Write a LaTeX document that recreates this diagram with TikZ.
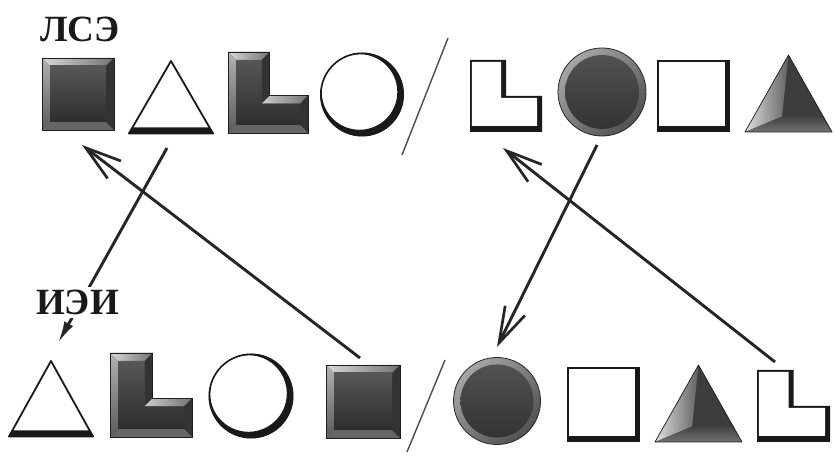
\documentclass[tikz,border=0pt]{standalone}
\usepackage{fontspec}
\setmainfont{Liberation Serif}
\usetikzlibrary{arrows.meta,calc}

\tikzset{
  anchorbox/.style={inner sep=0pt, outer sep=0pt, draw=none},
  arr/.style={line width=2.9pt, black!85, -{Straight Barb[length=36pt,width=22pt,line width=2.7pt]}},
  arrsmall/.style={line width=2.9pt, black!85, -{Latex[length=22pt,width=10pt]}},
  lbl/.style={font=\bfseries\fontsize{37}{37}\selectfont, inner sep=3pt, text=black!90},
  slashline/.style={line width=1.4pt, black!70},
}

% dark bevelled square
\newcommand\DarkSq[5]{%
  \begin{scope}[shift={(#2,#3)}]
    \pgfmathsetmacro\shW{#4/2}\pgfmathsetmacro\shH{#5/2}
    \fill[black!72] (-\shW,-\shH) rectangle (\shW,\shH);
    \shade[left color=gray!30, right color=black!55] (-\shW,\shH) -- (\shW,\shH) -- (\shW-8,\shH-8) -- (-\shW+8,\shH-8) -- cycle;
    \shade[top color=gray!60, bottom color=black!65] (-\shW,\shH) -- (-\shW+8,\shH-8) -- (-\shW+8,-\shH+8) -- (-\shW,-\shH) -- cycle;
    \fill[black!60] (-\shW,-\shH) -- (-\shW+8,-\shH+8) -- (\shW-8,-\shH+8) -- (\shW,-\shH) -- cycle;
    \fill[black!80] (\shW,\shH) -- (\shW-8,\shH-8) -- (\shW-8,-\shH+8) -- (\shW,-\shH) -- cycle;
    \shade[top color=black!66, bottom color=black!82] (-\shW+8,-\shH+8) rectangle (\shW-8,\shH-8);
    \draw[black!88, line width=0.9pt] (-\shW,-\shH) rectangle (\shW,\shH);
  \end{scope}
  \node[anchorbox, minimum width=#4pt, minimum height=#5pt] (#1) at (#2,#3) {};
}

% dark bevelled L
\newcommand\DarkL[5]{%
  \begin{scope}[shift={(#2,#3)}]
    \pgfmathsetmacro\shW{#4/2}\pgfmathsetmacro\shH{#5/2}
    \pgfmathsetmacro\nX{-\shW+0.52*#4}\pgfmathsetmacro\nY{\shH-0.54*#5}
    \fill[black!72] (-\shW,-\shH) -- (\shW,-\shH) -- (\shW,\nY) -- (\nX,\nY) -- (\nX,\shH) -- (-\shW,\shH) -- cycle;
    \shade[left color=gray!30, right color=black!55] (-\shW,\shH) -- (\nX,\shH) -- (\nX-8,\shH-8) -- (-\shW+8,\shH-8) -- cycle;
    \shade[top color=gray!60, bottom color=black!65] (-\shW,\shH) -- (-\shW+8,\shH-8) -- (-\shW+8,-\shH+8) -- (-\shW,-\shH) -- cycle;
    \fill[black!80] (\nX,\shH) -- (\nX,\nY) -- (\nX-8,\nY-8) -- (\nX-8,\shH-8) -- cycle;
    \shade[left color=gray!40, right color=black!55] (\nX,\nY) -- (\shW,\nY) -- (\shW-8,\nY-8) -- (\nX-8,\nY-8) -- cycle;
    \fill[black!80] (\shW,\nY) -- (\shW,-\shH) -- (\shW-8,-\shH+8) -- (\shW-8,\nY-8) -- cycle;
    \fill[black!60] (-\shW,-\shH) -- (-\shW+8,-\shH+8) -- (\shW-8,-\shH+8) -- (\shW,-\shH) -- cycle;
    \shade[top color=black!66, bottom color=black!82] (-\shW+8,-\shH+8) -- (\shW-8,-\shH+8) -- (\shW-8,\nY-8) -- (\nX-8,\nY-8) -- (\nX-8,\shH-8) -- (-\shW+8,\shH-8) -- cycle;
    \draw[black!88, line width=0.9pt] (-\shW,-\shH) -- (\shW,-\shH) -- (\shW,\nY) -- (\nX,\nY) -- (\nX,\shH) -- (-\shW,\shH) -- cycle;
  \end{scope}
  \node[anchorbox, minimum width=#4pt, minimum height=#5pt] (#1) at (#2,#3) {};
}

% white square with shadowed bottom/right edges
\newcommand\WhiteSq[5]{%
  \begin{scope}[shift={(#2,#3)}]
    \pgfmathsetmacro\shW{#4/2}\pgfmathsetmacro\shH{#5/2}
    \fill[black!90] (-\shW,-\shH) rectangle (\shW,\shH);
    \fill[white] (-\shW+1.8,-\shH+6) rectangle (\shW-5,\shH-1.8);
  \end{scope}
  \node[anchorbox, minimum width=#4pt, minimum height=#5pt] (#1) at (#2,#3) {};
}

% white L with shadowed edges
\newcommand\WhiteL[5]{%
  \begin{scope}[shift={(#2,#3)}]
    \pgfmathsetmacro\shW{#4/2}\pgfmathsetmacro\shH{#5/2}
    \pgfmathsetmacro\nX{-\shW+0.5*#4}\pgfmathsetmacro\nY{\shH-0.5*#5}
    \fill[black!90] (-\shW,-\shH) -- (\shW,-\shH) -- (\shW,\nY) -- (\nX,\nY) -- (\nX,\shH) -- (-\shW,\shH) -- cycle;
    \fill[white] (-\shW+1.8,-\shH+6) -- (\shW-5,-\shH+6) -- (\shW-5,\nY-1.8) -- (\nX-5,\nY-1.8) -- (\nX-5,\shH-1.8) -- (-\shW+1.8,\shH-1.8) -- cycle;
  \end{scope}
  \node[anchorbox, minimum width=#4pt, minimum height=#5pt] (#1) at (#2,#3) {};
}

% white triangle with thick base
\newcommand\WhiteTri[5]{%
  \begin{scope}[shift={(#2,#3)}]
    \pgfmathsetmacro\shW{#4/2}\pgfmathsetmacro\shH{#5/2}
    \fill[white] (0,\shH) -- (-\shW,-\shH) -- (\shW,-\shH) -- cycle;
    \draw[black!90, line width=1.8pt, line join=round] (0,\shH-1) -- (-\shW+1,-\shH+0.5) -- (\shW-1,-\shH+0.5) -- cycle;
    \fill[black!90] (-\shW,-\shH) -- (\shW,-\shH) -- (\shW-4,-\shH+6.5) -- (-\shW+4,-\shH+6.5) -- cycle;
  \end{scope}
  \node[anchorbox, minimum width=#4pt, minimum height=#5pt] (#1) at (#2,#3) {};
}

% dark shaded triangle
\newcommand\DarkTri[5]{%
  \begin{scope}[shift={(#2,#3)}]
    \pgfmathsetmacro\shW{#4/2}\pgfmathsetmacro\shH{#5/2}
    \pgfmathsetmacro\pX{-0.15*\shW}\pgfmathsetmacro\pY{-\shH+0.2*#5}
    \fill[black!76] (0,\shH) -- (-\shW,-\shH) -- (\shW,-\shH) -- cycle;
    \shade[left color=gray!25, right color=black!62] (0,\shH) -- (-\shW,-\shH) -- (\pX,\pY) -- cycle;
    \shade[top color=black!74, bottom color=black!55] (-\shW,-\shH) -- (\shW,-\shH) -- (0.8*\shW,\pY) -- (\pX,\pY) -- cycle;
    \draw[black!88, line width=0.7pt, line join=round] (0,\shH) -- (-\shW,-\shH) -- (\shW,-\shH) -- cycle;
  \end{scope}
  \node[anchorbox, minimum width=#4pt, minimum height=#5pt] (#1) at (#2,#3) {};
}

% white circle with crescent shadow
\newcommand\WhiteCirc[4]{%
  \begin{scope}[shift={(#2,#3)}]
    \fill[white] (0,0) circle (#4);
    \fill[black!90, even odd rule] (0,0) circle (#4-0.3) (-2.5,2.5) circle (#4-4.2);
    \draw[black!90, line width=1.6pt] (0,0) circle (#4-0.8);
  \end{scope}
  \node[anchorbox, circle, minimum size=2*#4pt] (#1) at (#2,#3) {};
}

% dark shaded ball with lighter rim
\newcommand\DarkCirc[4]{%
  \begin{scope}[shift={(#2,#3)}]
    \shade[top color=gray!70, bottom color=black!68, shading angle=45] (0,0) circle (#4);
    \shade[top color=black!68, bottom color=black!80] (0,0) circle (0.84*#4);
    \draw[black!85, line width=0.8pt] (0,0) circle (#4);
  \end{scope}
  \node[anchorbox, circle, minimum size=2*#4pt] (#1) at (#2,#3) {};
}

\begin{document}
\begin{tikzpicture}[x=1pt, y=1pt]
  \fill[white] (0,0) rectangle (834,462);
  \useasboundingbox (0,0) rectangle (834,462);

  % top row
  \DarkSq{t1}{78}{368}{72}{72}
  \WhiteTri{t2}{171}{365}{86}{74}
  \DarkL{t3}{268}{369.5}{80}{81}
  \WhiteCirc{t4}{362}{367.5}{42}
  \WhiteL{t5}{506}{366}{72}{72}
  \DarkCirc{t6}{602}{370}{44}
  \WhiteSq{t7}{693.5}{366}{73}{72}
  \DarkTri{t8}{788.5}{368.5}{87}{77}

  % bottom row
  \WhiteTri{b1}{51}{63.5}{86}{77}
  \DarkL{b2}{151}{67}{82}{84}
  \WhiteCirc{b3}{251}{66}{42.5}
  \DarkSq{b4}{363}{60.5}{74}{73}
  \DarkCirc{b5}{497}{61}{43.5}
  \WhiteSq{b6}{603.5}{57.5}{73}{75}
  \DarkTri{b7}{698.5}{58.5}{87}{77}
  \WhiteL{b8}{793.5}{56}{73}{72}

  % separators
  \draw[slashline] (402,307) -- (448,424);
  \draw[slashline] (407,10) -- (445,102);

  % connectors
  \draw[arr] ($(b4.north)+(-3,7)$) -- ($(t1.south)+(4,-15)$);
  \draw[arrsmall] ($(t2.south)+(-4,-14)$) -- ($(b1.north)+(7,17)$);
  \draw[arr] ($(t6.south)+(-5,-9)$) -- ($(b5.north)+(0,10.5)$);
  \draw[arr] ($(b8.north)+(-18.5,8)$) -- ($(t5.south)+(-3,-16)$);

  % labels
  \node[lbl] (lse) at (80,432.5) {ЛСЭ};
  \node[lbl, fill=white] (iei) at (77.5,159.5) {ИЭИ};
\end{tikzpicture}
\end{document}
